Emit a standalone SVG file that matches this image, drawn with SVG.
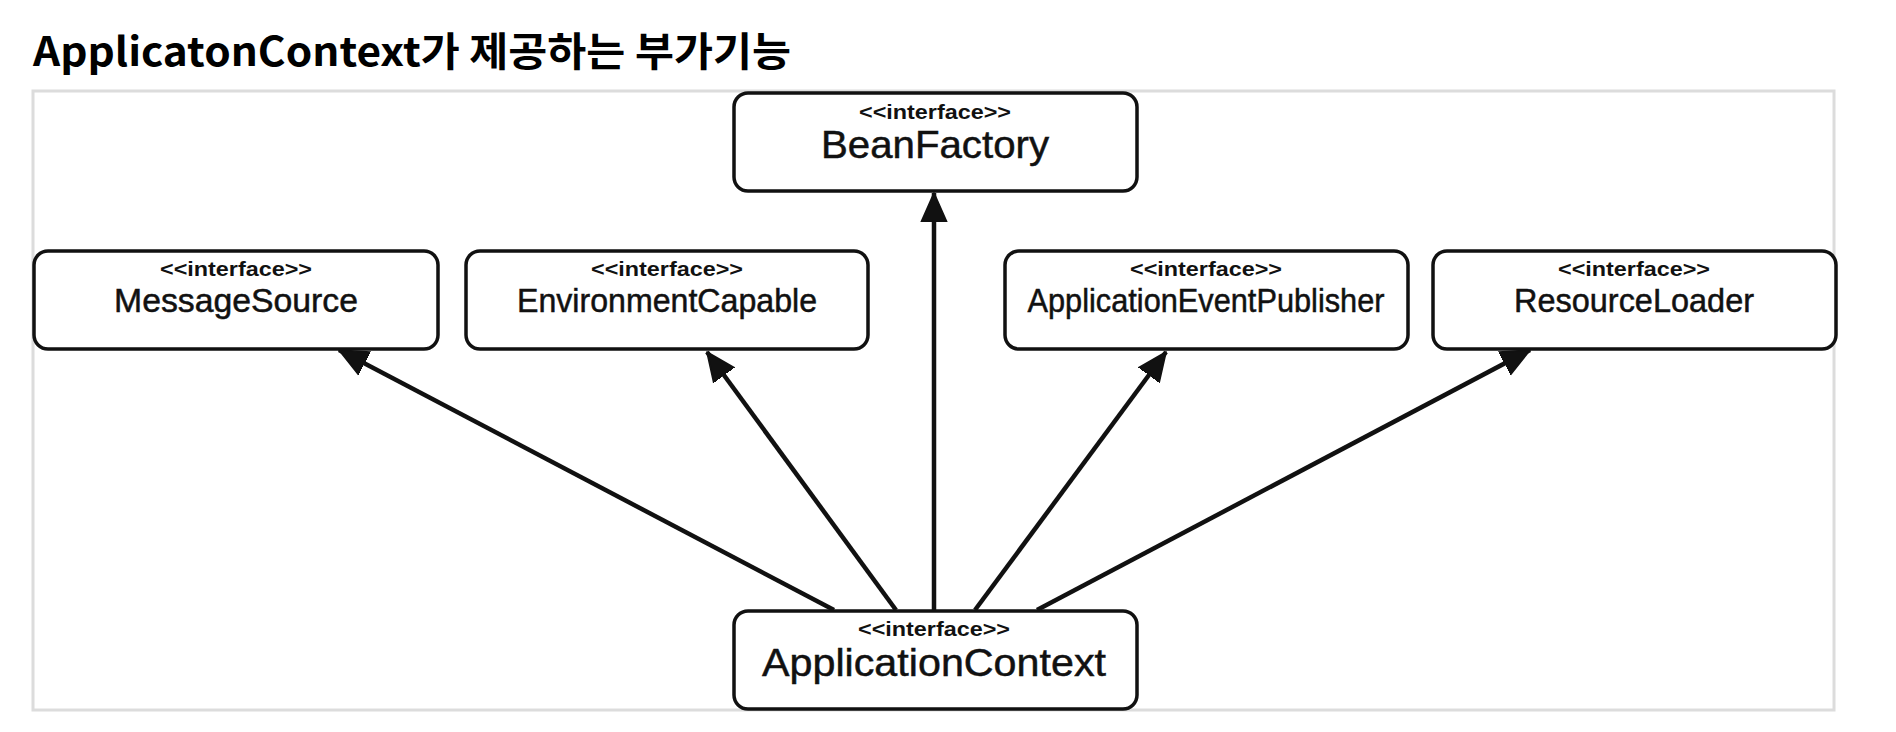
<svg xmlns="http://www.w3.org/2000/svg" width="1896" height="732" viewBox="0 0 1896 732">
<style>
.box{fill:#fff;stroke:#111;stroke-width:3.5}
.st{font-family:"Liberation Sans",Arial,sans-serif;font-weight:700;font-size:20px;fill:#111;text-anchor:middle}
.nm{font-family:"Liberation Sans",Arial,sans-serif;font-size:33px;fill:#111;stroke:#111;stroke-width:0.5;text-anchor:middle}
.nmL{font-family:"Liberation Sans",Arial,sans-serif;font-size:39px;fill:#111;stroke:#111;stroke-width:0.5;text-anchor:middle}
.edge{stroke:#111;stroke-width:4.5;fill:none;marker-end:url(#arr)}
.title{font-family:"Noto Sans CJK KR","Noto Sans",sans-serif;font-weight:700;font-size:40px;fill:#000}
</style>
<defs>
<marker id="arr" markerUnits="userSpaceOnUse" markerWidth="30" markerHeight="30" viewBox="0 0 26 24" refX="25" refY="12" orient="auto">
<path d="M0,1 L25,12 L0,23 Z" fill="#111" stroke="#111" stroke-width="1.5" stroke-linejoin="round"/>
</marker>
</defs>
<rect width="1896" height="732" fill="#fff"/>
<text class="title" x="33" y="66" textLength="758" lengthAdjust="spacingAndGlyphs">ApplicatonContext가 제공하는 부가기능</text>
<rect x="33" y="91" width="1801" height="619" fill="none" stroke="#dcdcdc" stroke-width="3"/>
<g id="connectors">
<line class="edge" x1="834" y1="610" x2="339" y2="350"/>
<line class="edge" x1="896" y1="610" x2="707" y2="352"/>
<line class="edge" x1="934" y1="610" x2="934" y2="193"/>
<line class="edge" x1="975" y1="610" x2="1166" y2="352"/>
<line class="edge" x1="1037" y1="610" x2="1530" y2="350"/>
</g>
<g id="BeanFactory">
<rect class="box" x="734" y="93" width="403" height="98" rx="14"/>
<text class="st" x="935" y="119" textLength="152" lengthAdjust="spacingAndGlyphs">&lt;&lt;interface&gt;&gt;</text>
<text class="nmL" x="935" y="158" textLength="228" lengthAdjust="spacingAndGlyphs">BeanFactory</text>
</g>
<g id="MessageSource">
<rect class="box" x="34" y="251" width="404" height="98" rx="14"/>
<text class="st" x="236" y="276" textLength="152" lengthAdjust="spacingAndGlyphs">&lt;&lt;interface&gt;&gt;</text>
<text class="nm" x="236" y="312" textLength="244" lengthAdjust="spacingAndGlyphs">MessageSource</text>
</g>
<g id="EnvironmentCapable">
<rect class="box" x="466" y="251" width="402" height="98" rx="14"/>
<text class="st" x="667" y="276" textLength="152" lengthAdjust="spacingAndGlyphs">&lt;&lt;interface&gt;&gt;</text>
<text class="nm" x="667" y="312" textLength="300" lengthAdjust="spacingAndGlyphs">EnvironmentCapable</text>
</g>
<g id="ApplicationEventPublisher">
<rect class="box" x="1005" y="251" width="403" height="98" rx="14"/>
<text class="st" x="1206" y="276" textLength="152" lengthAdjust="spacingAndGlyphs">&lt;&lt;interface&gt;&gt;</text>
<text class="nm" x="1206" y="312" textLength="357" lengthAdjust="spacingAndGlyphs">ApplicationEventPublisher</text>
</g>
<g id="ResourceLoader">
<rect class="box" x="1433" y="251" width="403" height="98" rx="14"/>
<text class="st" x="1634" y="276" textLength="152" lengthAdjust="spacingAndGlyphs">&lt;&lt;interface&gt;&gt;</text>
<text class="nm" x="1634" y="312" textLength="240" lengthAdjust="spacingAndGlyphs">ResourceLoader</text>
</g>
<g id="ApplicationContext">
<rect class="box" x="734" y="611" width="403" height="98" rx="14"/>
<text class="st" x="934" y="636" textLength="152" lengthAdjust="spacingAndGlyphs">&lt;&lt;interface&gt;&gt;</text>
<text class="nmL" x="934" y="676" textLength="344" lengthAdjust="spacingAndGlyphs">ApplicationContext</text>
</g>
</svg>
